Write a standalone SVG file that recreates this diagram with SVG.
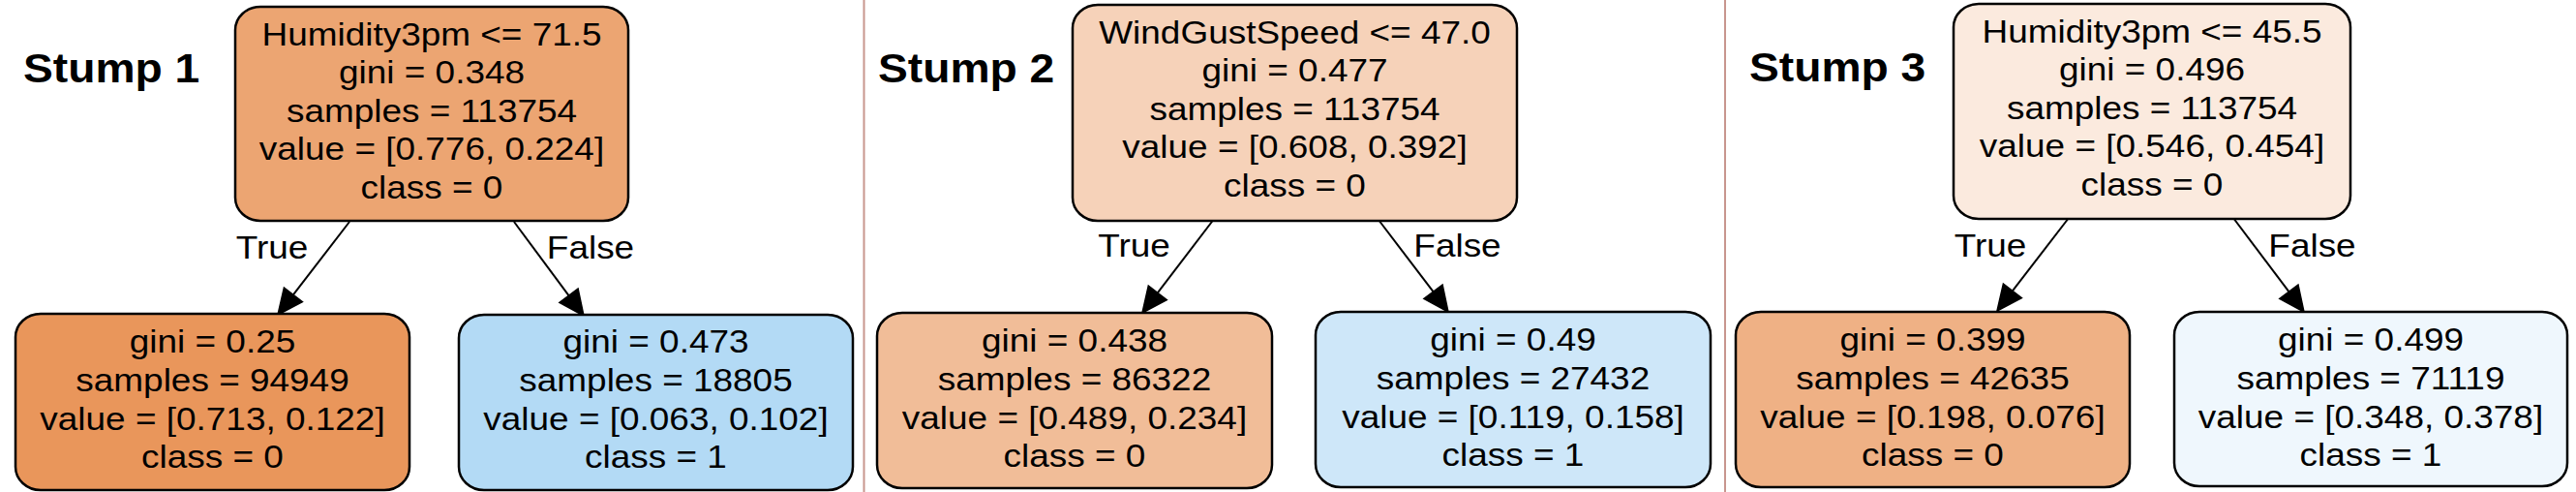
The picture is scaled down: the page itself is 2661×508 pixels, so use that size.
<svg xmlns="http://www.w3.org/2000/svg" width="2661" height="508" viewBox="0 0 2661 508">
<style>
.bg{fill:#ffffff}
.sep{stroke:#c8968e;stroke-width:2}
.box{stroke:#000;stroke-width:2.5}
.t{font-family:"Liberation Sans",Arial,Helvetica,sans-serif;font-size:33px;text-anchor:middle;fill:#000}
.ttl{font-family:"Liberation Sans",Arial,Helvetica,sans-serif;font-size:42px;font-weight:bold;fill:#000}
.edge{stroke:#000;stroke-width:2;fill:none}
.head{fill:#000;stroke:#000;stroke-width:1.5}
</style>
<rect class="bg" x="0" y="0" width="2661" height="508"/>
<line class="sep" x1="892.5" y1="0" x2="892.5" y2="508"/>
<line class="sep" x1="1782" y1="0" x2="1782" y2="508"/>

<g id="title1"><text class="ttl" transform="translate(24,85) scale(1.1,1)">Stump 1</text></g>
<g id="title2"><text class="ttl" transform="translate(907,85) scale(1.1,1)">Stump 2</text></g>
<g id="title3"><text class="ttl" transform="translate(1807,84) scale(1.1,1)">Stump 3</text></g>

<g id="connectors">
<line class="edge" x1="361" y1="229" x2="302.9" y2="304.4"/>
<polygon class="head" points="287,325 293.4,297.1 312.4,311.7"/>
<line class="edge" x1="531" y1="229" x2="587.5" y2="305.1"/>
<polygon class="head" points="603,326 577.9,312.3 597.1,298"/>
<text class="t" transform="translate(281,267) scale(1.12,1)">True</text>
<text class="t" transform="translate(610,267) scale(1.12,1)">False</text>

<line class="edge" x1="1252.6" y1="228" x2="1195.8" y2="302.4"/>
<polygon class="head" points="1180,323 1186.3,295.1 1205.3,309.7"/>
<line class="edge" x1="1424.8" y1="228" x2="1480.5" y2="301.2"/>
<polygon class="head" points="1496,322 1470.9,308.4 1490.1,294"/>
<text class="t" transform="translate(1171.5,265) scale(1.12,1)">True</text>
<text class="t" transform="translate(1505.5,265) scale(1.12,1)">False</text>

<line class="edge" x1="2137" y1="225" x2="2078.9" y2="300.4"/>
<polygon class="head" points="2063,321 2069.4,293.1 2088.4,307.7"/>
<line class="edge" x1="2307" y1="225" x2="2364.4" y2="301.2"/>
<polygon class="head" points="2380,322 2354.8,308.4 2374,294"/>
<text class="t" transform="translate(2056,265) scale(1.12,1)">True</text>
<text class="t" transform="translate(2388.5,265) scale(1.12,1)">False</text>
</g>

<g id="s1-root">
<rect class="box" x="243" y="7" width="406" height="221" rx="26" ry="24" fill="#eca572"/>
<g transform="translate(446,0) scale(1.12,1)">
<text class="t" x="0" y="47">Humidity3pm &lt;= 71.5</text>
<text class="t" x="0" y="86.5">gini = 0.348</text>
<text class="t" x="0" y="126">samples = 113754</text>
<text class="t" x="0" y="165.5">value = [0.776, 0.224]</text>
<text class="t" x="0" y="205">class = 0</text>
</g>
</g>
<g id="s1-left">
<rect class="box" x="16" y="324" width="407" height="182" rx="26" ry="24" fill="#e9965b"/>
<g transform="translate(219.5,0) scale(1.12,1)">
<text class="t" x="0" y="364">gini = 0.25</text>
<text class="t" x="0" y="404">samples = 94949</text>
<text class="t" x="0" y="444">value = [0.713, 0.122]</text>
<text class="t" x="0" y="483">class = 0</text>
</g>
</g>
<g id="s1-right">
<rect class="box" x="474" y="325" width="407" height="181" rx="26" ry="24" fill="#b3daf5"/>
<g transform="translate(677.5,0) scale(1.12,1)">
<text class="t" x="0" y="364">gini = 0.473</text>
<text class="t" x="0" y="404">samples = 18805</text>
<text class="t" x="0" y="444">value = [0.063, 0.102]</text>
<text class="t" x="0" y="483">class = 1</text>
</g>
</g>

<g id="s2-root">
<rect class="box" x="1108" y="5" width="459" height="223" rx="26" ry="24" fill="#f6d2b9"/>
<g transform="translate(1337.5,0) scale(1.12,1)">
<text class="t" x="0" y="45">WindGustSpeed &lt;= 47.0</text>
<text class="t" x="0" y="84.5">gini = 0.477</text>
<text class="t" x="0" y="124">samples = 113754</text>
<text class="t" x="0" y="163.5">value = [0.608, 0.392]</text>
<text class="t" x="0" y="203">class = 0</text>
</g>
</g>
<g id="s2-left">
<rect class="box" x="906" y="323" width="408" height="181" rx="26" ry="24" fill="#f1bd98"/>
<g transform="translate(1110,0) scale(1.12,1)">
<text class="t" x="0" y="363">gini = 0.438</text>
<text class="t" x="0" y="403">samples = 86322</text>
<text class="t" x="0" y="443">value = [0.489, 0.234]</text>
<text class="t" x="0" y="482">class = 0</text>
</g>
</g>
<g id="s2-right">
<rect class="box" x="1359" y="322" width="408" height="181" rx="26" ry="24" fill="#cee7f9"/>
<g transform="translate(1563,0) scale(1.12,1)">
<text class="t" x="0" y="362">gini = 0.49</text>
<text class="t" x="0" y="402">samples = 27432</text>
<text class="t" x="0" y="442">value = [0.119, 0.158]</text>
<text class="t" x="0" y="481">class = 1</text>
</g>
</g>

<g id="s3-root">
<rect class="box" x="2018" y="4" width="410" height="222" rx="26" ry="24" fill="#fbeade"/>
<g transform="translate(2223,0) scale(1.12,1)">
<text class="t" x="0" y="44">Humidity3pm &lt;= 45.5</text>
<text class="t" x="0" y="83.5">gini = 0.496</text>
<text class="t" x="0" y="123">samples = 113754</text>
<text class="t" x="0" y="162.5">value = [0.546, 0.454]</text>
<text class="t" x="0" y="202">class = 0</text>
</g>
</g>
<g id="s3-left">
<rect class="box" x="1793" y="322" width="407" height="181" rx="26" ry="24" fill="#efb185"/>
<g transform="translate(1996.5,0) scale(1.12,1)">
<text class="t" x="0" y="362">gini = 0.399</text>
<text class="t" x="0" y="402">samples = 42635</text>
<text class="t" x="0" y="442">value = [0.198, 0.076]</text>
<text class="t" x="0" y="481">class = 0</text>
</g>
</g>
<g id="s3-right">
<rect class="box" x="2246" y="322" width="406" height="180" rx="26" ry="24" fill="#eff7fd"/>
<g transform="translate(2449,0) scale(1.12,1)">
<text class="t" x="0" y="362">gini = 0.499</text>
<text class="t" x="0" y="402">samples = 71119</text>
<text class="t" x="0" y="442">value = [0.348, 0.378]</text>
<text class="t" x="0" y="481">class = 1</text>
</g>
</g>
</svg>
